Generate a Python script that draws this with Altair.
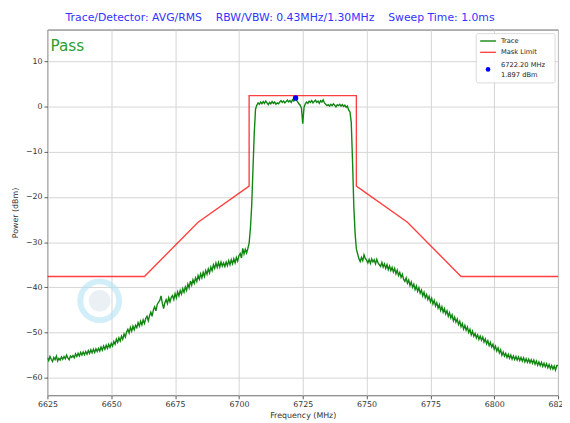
import altair as alt
import pandas as pd

# ---------------- data ----------------
FREQ_START = 6625.0
FREQ_STEP = 0.5

trace_power = [
    -55.6, -56.2, -55.3, -55.9, -56.4, -55.5, -56.0, -55.2, -56.3, -55.7,
    -56.1, -55.4, -55.9, -55.3, -55.8, -55.0, -55.6, -56.0, -55.2, -55.5,
    -55.1, -55.6, -54.7, -55.3, -54.6, -55.2, -54.4, -55.0, -54.3, -54.9,
    -54.2, -54.8, -54.0, -54.6, -53.8, -54.5, -53.7, -54.4, -53.6, -54.2,
    -53.5, -54.1, -53.2, -53.9, -53.0, -53.7, -52.8, -53.5, -52.6, -53.3,
    -52.4, -53.0, -52.0, -52.6, -51.5, -52.2, -51.2, -51.9, -50.8, -51.5,
    -50.3, -51.0, -49.9, -49.3, -50.1, -48.9, -49.7, -48.6, -49.4, -48.4,
    -48.9, -47.8, -48.6, -47.5, -48.3, -47.2, -48.0, -46.9, -46.4, -47.4,
    -46.3, -45.5, -46.4, -45.0, -44.3, -45.2, -43.8, -43.3, -42.9, -41.9,
    -43.5, -44.7, -43.4, -42.7, -43.6, -42.3, -43.2, -42.2, -41.8, -42.7,
    -41.4, -42.3, -41.0, -41.9, -40.7, -41.5, -40.3, -41.1, -39.9, -40.7,
    -39.3, -40.1, -38.6, -39.5, -38.3, -39.1, -37.9, -38.7, -37.4, -38.2,
    -37.0, -37.9, -36.7, -37.6, -36.3, -37.1, -35.9, -36.8, -35.5, -36.3,
    -35.0, -35.8, -34.6, -35.6, -34.5, -35.5, -34.4, -35.3, -34.6, -35.4,
    -34.4, -35.2, -34.1, -35.0, -33.9, -34.8, -33.7, -34.6, -33.4, -34.2,
    -33.0, -32.5, -33.5, -31.4, -32.6, -31.6, -32.4, -31.4, -30.2, -27.0,
    -22.0, -14.0, -6.0, -0.6, 0.3, 0.8, 0.5, 1.0, 0.6, 1.1,
    0.7, 1.2, 0.8, 0.4, 0.9, 0.6, 1.1, 0.7, 1.0, 0.5,
    0.8, 0.6, 1.0, 1.3, 0.9, 1.2, 0.8, 1.1, 1.4, 1.0,
    1.3, 0.9, 1.5, 1.2, 1.9, 1.5, 1.0, 0.6, 0.3, -0.4,
    -3.8, -0.2, 0.6, 1.0, 0.7, 1.2, 0.9, 1.3, 0.8, 1.1,
    1.4, 0.9, 1.2, 0.7, 1.3, 1.0, 1.5, 0.8, 0.5, 0.2,
    0.4, 0.1, 0.5, 0.2, 0.6, 0.3, -0.1, 0.4, 0.2, 0.5,
    0.1, 0.4, 0.0, 0.3, -0.2, 0.1, -0.8, -1.2, -3.5, -12.0,
    -22.0, -28.0, -31.5, -32.6, -33.7, -34.3, -33.4, -34.1, -32.8, -33.6,
    -34.0, -34.6, -33.8, -34.7, -33.7, -34.4, -33.9, -34.8, -33.8, -34.6,
    -35.0, -35.4, -34.5, -35.5, -34.8, -35.8, -35.0, -36.1, -35.3, -36.3,
    -35.6, -36.6, -35.8, -37.0, -36.2, -37.4, -36.7, -37.8, -37.1, -38.2,
    -38.7, -37.9, -39.1, -38.4, -39.6, -38.8, -40.0, -39.3, -40.5, -39.7,
    -40.9, -40.1, -41.3, -40.6, -41.9, -41.1, -42.3, -41.6, -42.7, -42.0,
    -43.2, -42.4, -43.7, -42.9, -44.1, -43.4, -44.6, -43.8, -45.1, -44.3,
    -45.5, -44.7, -45.9, -45.2, -46.4, -45.6, -46.8, -46.1, -47.4, -46.6,
    -47.7, -47.0, -48.2, -47.5, -48.7, -48.0, -49.2, -48.4, -49.5, -48.8,
    -50.0, -49.3, -50.5, -49.7, -50.8, -50.2, -51.2, -50.5, -51.5, -50.8,
    -51.7, -51.0, -52.1, -51.4, -52.5, -51.8, -52.9, -52.2, -53.2, -52.6,
    -53.7, -53.0, -54.1, -53.4, -54.5, -53.8, -55.0, -54.3, -55.2, -54.6,
    -55.5, -54.8, -55.7, -55.0, -55.9, -55.2, -56.0, -55.3, -56.1, -55.4,
    -56.2, -55.5, -56.3, -55.6, -56.5, -55.8, -56.6, -55.9, -56.7, -56.0,
    -56.8, -56.1, -57.0, -56.3, -57.2, -56.5, -57.3, -56.6, -57.5, -56.8,
    -57.6, -56.9, -57.8, -57.1, -58.0, -57.3, -58.1, -57.4, -58.3, -57.3,
    -57.3,
]
trace_freq = [FREQ_START + FREQ_STEP * i for i in range(len(trace_power))]

mask_freq = [6625, 6663, 6684, 6704, 6704, 6746, 6746, 6766, 6787, 6825]
mask_limit = [-37.6, -37.6, -25.6, -17.6, 2.4, 2.4, -17.6, -25.6, -37.6, -37.6]

marker_freq = [6722.20]
marker_power = [1.897]
marker_label = ["6722.20 MHz", "1.897 dBm"]

x_ticks = [6625, 6650, 6675, 6700, 6725, 6750, 6775, 6800, 6825]
y_ticks = [-60, -50, -40, -30, -20, -10, 0, 10]

title_text = "Trace/Detector: AVG/RMS\u00a0\u00a0\u00a0\u00a0RBW/VBW: 0.43MHz/1.30MHz\u00a0\u00a0\u00a0\u00a0Sweep Time: 1.0ms"
status_text = "Pass"
legend_labels = ["Trace", "Mask Limit"]

FONT = "DejaVu Sans"
W, H = 518, 371

trace_df = pd.DataFrame({"freq": trace_freq, "power": trace_power})
mask_df = pd.DataFrame({"freq": mask_freq, "limit": mask_limit, "idx": list(range(len(mask_freq)))})
marker_df = pd.DataFrame({"freq": marker_freq, "power": marker_power})

xscale = alt.Scale(domain=[6625, 6825], nice=False, zero=False)
yscale = alt.Scale(domain=[-63.9, 17.0], nice=False, zero=False)

xenc = alt.X("freq:Q", scale=xscale, axis=alt.Axis(
    values=x_ticks, title="Frequency (MHz)", format="d", labelOverlap=False,
    labelFlush=False, grid=True))
yenc = alt.Y("power:Q", scale=yscale, axis=alt.Axis(
    values=y_ticks, title="Power (dBm)", grid=True))

trace = alt.Chart(trace_df).mark_line(color="#108510", strokeWidth=1.4, clip=True).encode(
    x=xenc, y=yenc)

mask = alt.Chart(mask_df).mark_line(color="#ff0000", strokeWidth=1.4, opacity=0.75, clip=True).encode(
    x=alt.X("freq:Q", scale=xscale),
    y=alt.Y("limit:Q", scale=yscale),
    order=alt.Order("idx:Q"))

marker = alt.Chart(marker_df).mark_point(filled=True, color="#0000ff", size=30, opacity=1).encode(
    x=alt.X("freq:Q", scale=xscale),
    y=alt.Y("power:Q", scale=yscale))

# watermark (decorative)
one = pd.DataFrame({"k": [0]})
wm_ring = alt.Chart(one).mark_point(shape="circle", size=1550, filled=False,
                                    stroke="#b5e4f5", strokeWidth=6, opacity=0.6).encode(
    x=alt.value(53), y=alt.value(275))
wm_core = alt.Chart(one).mark_point(shape="circle", size=480, filled=True,
                                    color="#d3dde6", opacity=0.45).encode(
    x=alt.value(53), y=alt.value(275))

# "Pass" annotation
status = alt.Chart(pd.DataFrame({"t": [status_text]})).mark_text(
    font=FONT, fontSize=15.5, color="#2ca02c", align="left", baseline="alphabetic").encode(
    x=alt.value(3), y=alt.value(21.7), text="t:N")

# legend (decorative, drawn inside the plot)
leg_box = alt.Chart(one).mark_rect(fill="white", stroke="#cccccc", strokeWidth=0.8,
                                   cornerRadius=2, opacity=0.9).encode(
    x=alt.value(435), x2=alt.value(515), y=alt.value(4), y2=alt.value(54))
leg_trace = alt.Chart(one).mark_rule(color="#108510", strokeWidth=1.4).encode(
    x=alt.value(439), x2=alt.value(455), y=alt.value(11.5))
leg_mask = alt.Chart(one).mark_rule(color="#ff0000", strokeWidth=1.4, opacity=0.75).encode(
    x=alt.value(439), x2=alt.value(455), y=alt.value(23))
leg_dot = alt.Chart(one).mark_point(filled=True, color="#0000ff", size=22, opacity=1).encode(
    x=alt.value(447), y=alt.value(40.3))
leg_txt1 = alt.Chart(pd.DataFrame({"t": [legend_labels[0]]})).mark_text(
    font=FONT, fontSize=6.8, color="#222", align="left", baseline="middle").encode(
    x=alt.value(460), y=alt.value(11.5), text="t:N")
leg_txt2 = alt.Chart(pd.DataFrame({"t": [legend_labels[1]]})).mark_text(
    font=FONT, fontSize=6.8, color="#222", align="left", baseline="middle").encode(
    x=alt.value(460), y=alt.value(23), text="t:N")
leg_txt3 = alt.Chart(pd.DataFrame({"t": [marker_label[0]]})).mark_text(
    font=FONT, fontSize=6.8, color="#222", align="left", baseline="middle").encode(
    x=alt.value(460), y=alt.value(35.5), text="t:N")
leg_txt4 = alt.Chart(pd.DataFrame({"t": [marker_label[1]]})).mark_text(
    font=FONT, fontSize=6.8, color="#222", align="left", baseline="middle").encode(
    x=alt.value(460), y=alt.value(46.3), text="t:N")

chart = alt.layer(
    wm_ring, wm_core, trace, mask, marker, status,
    leg_box, leg_trace, leg_mask, leg_dot, leg_txt1, leg_txt2, leg_txt3, leg_txt4
).properties(
    width=W, height=H,
    title=alt.TitleParams(text=title_text, color="#3333ff", fontSize=11, font=FONT,
                          fontWeight="normal", anchor="middle", offset=7, dx=-23),
    autosize=alt.AutoSizeParams(type="none"),
    padding={"left": 40, "top": 19, "right": 4, "bottom": 22},
).configure_view(
    stroke="#555555", strokeWidth=0.9
).configure_axis(
    labelFont=FONT, titleFont=FONT, labelFontSize=8, titleFontSize=8,
    labelColor="#333333", titleColor="#333333", titleFontWeight="normal",
    domain=False, tickColor="#333333", tickSize=3.5, tickWidth=0.8,
    gridColor="#d0d0d0", gridWidth=0.9, labelPadding=2,
).configure_axisX(
    titlePadding=3
).configure_axisY(
    titlePadding=6
)

chart.save("out.html", embed_options={"renderer": "svg", "actions": False})
